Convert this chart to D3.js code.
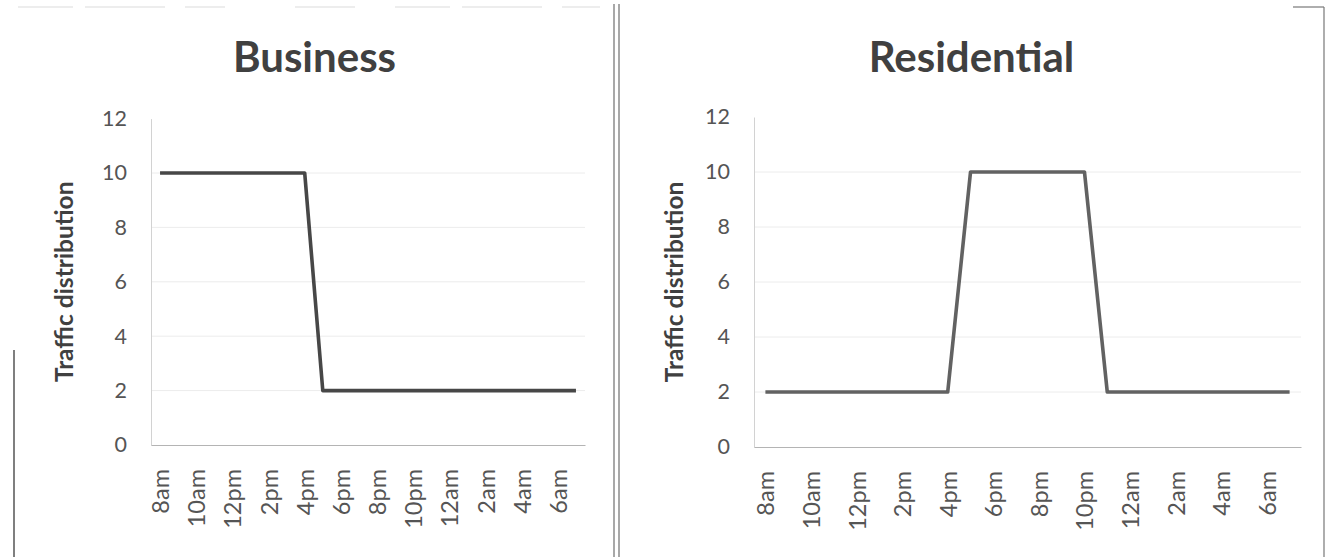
<!DOCTYPE html>
<html>
<head>
<meta charset="utf-8">
<script src="https://cdn.jsdelivr.net/npm/d3@7/dist/d3.min.js"></script>
<style>
  html, body { margin: 0; padding: 0; background: #ffffff; }
  svg { display: block; }
  text { font-family: Lato, "Open Sans", "DejaVu Sans", sans-serif; }
</style>
</head>
<body>
<svg id="chart" width="1327" height="557"></svg>
<script>
// Hourly categories, 8am through 7am the next morning
const hours = ["8am","9am","10am","11am","12pm","1pm","2pm","3pm","4pm","5pm","6pm","7pm",
               "8pm","9pm","10pm","11pm","12am","1am","2am","3am","4am","5am","6am","7am"];
// Labels shown on the category axis (every second hour)
const hourLabels = ["8am","10am","12pm","2pm","4pm","6pm","8pm","10pm","12am","2am","4am","6am"];
// Traffic distribution per hour
const businessValues    = [10,10,10,10,10,10,10,10,10, 2, 2, 2, 2, 2, 2, 2, 2, 2, 2, 2, 2, 2, 2, 2];
const residentialValues = [ 2, 2, 2, 2, 2, 2, 2, 2, 2,10,10,10,10,10,10, 2, 2, 2, 2, 2, 2, 2, 2, 2];
const yTicks = [0, 2, 4, 6, 8, 10, 12];
const panelTitles = ["Business", "Residential"];
const yAxisTitle = "Traffic distribution";

const svg = d3.select("#chart");

// Panel geometry
const panels = [
  { title: panelTitles[0], values: businessValues, lineColor: "#474747",
    chartLeft: 15, chartRight: 614, plotLeft: 151, plotRight: 585, plotTop: 118.6, plotBottom: 445,
    axisTitleX: 64 },
  { title: panelTitles[1], values: residentialValues, lineColor: "#626262",
    chartLeft: 619, chartRight: 1324, plotLeft: 754, plotRight: 1301, plotTop: 117, plotBottom: 447,
    axisTitleX: 674 }
];

// Frame lines around the two charts
const frame = svg.append("g").attr("fill", "none");
frame.append("line").attr("x1", 614).attr("x2", 614).attr("y1", 4).attr("y2", 557)
  .attr("stroke", "#6e6e6e").attr("stroke-width", 1.2);
frame.append("line").attr("x1", 619).attr("x2", 619).attr("y1", 4).attr("y2", 557)
  .attr("stroke", "#6e6e6e").attr("stroke-width", 1.2);
frame.append("line").attr("x1", 14).attr("x2", 14).attr("y1", 350).attr("y2", 557)
  .attr("stroke", "#555").attr("stroke-width", 1.5);
frame.append("line").attr("x1", 18).attr("x2", 600).attr("y1", 7).attr("y2", 7)
  .attr("stroke", "#dcdcdc").attr("stroke-width", 1.2).attr("stroke-dasharray", "55 12 80 20 40 70 60 40");
frame.append("line").attr("x1", 1324).attr("x2", 1324).attr("y1", 7).attr("y2", 557)
  .attr("stroke", "#777").attr("stroke-width", 1.2);
frame.append("line").attr("x1", 1293).attr("x2", 1324).attr("y1", 7).attr("y2", 7)
  .attr("stroke", "#777").attr("stroke-width", 1.2);

panels.forEach(p => {
  const g = svg.append("g");

  const x = d3.scalePoint().domain(hours).range([p.plotLeft, p.plotRight]).padding(0.5);
  const y = d3.scaleLinear().domain([0, 12]).range([p.plotBottom, p.plotTop]);

  // Title
  g.append("text")
    .attr("x", (p.chartLeft + p.chartRight) / 2)
    .attr("y", 72)
    .attr("text-anchor", "middle")
    .attr("font-size", 42)
    .attr("font-weight", 700)
    .attr("fill", "#404040")
    .text(p.title);

  // Horizontal gridlines
  g.append("g").selectAll("line").data(yTicks.filter(v => v > 0 && v < 12)).join("line")
    .attr("x1", p.plotLeft).attr("x2", p.plotRight)
    .attr("y1", d => y(d)).attr("y2", d => y(d))
    .attr("stroke", "#ececec").attr("stroke-width", 1);

  // Value axis
  const yAxis = g.append("g")
    .attr("transform", `translate(${p.plotLeft},0)`)
    .call(d3.axisLeft(y).tickValues(yTicks).tickSize(0).tickPadding(24));
  yAxis.select(".domain").attr("stroke", "#d2d2d2").attr("stroke-width", 1);
  yAxis.selectAll("text")
    .attr("font-size", 21.5)
    .attr("fill", "#555")
    .style("font-family", "Lato, 'Open Sans', sans-serif");

  // Category axis
  const xAxis = g.append("g")
    .attr("transform", `translate(0,${p.plotBottom})`)
    .call(d3.axisBottom(x).tickValues(hourLabels).tickSize(0));
  xAxis.select(".domain").attr("stroke", "#b4b4b4").attr("stroke-width", 1.2);
  xAxis.selectAll("text")
    .attr("font-size", 23.5)
    .attr("fill", "#555")
    .style("font-family", "Lato, 'Open Sans', sans-serif")
    .attr("text-anchor", "end")
    .attr("transform", "rotate(-90)")
    .attr("x", -24)
    .attr("y", 0)
    .attr("dy", "0.36em");

  // Axis title
  g.append("text")
    .attr("transform", `translate(${p.axisTitleX},${(p.plotTop + p.plotBottom) / 2}) rotate(-90)`)
    .attr("text-anchor", "middle")
    .attr("dy", "0.36em")
    .attr("font-size", 24.5)
    .attr("font-weight", 700)
    .attr("fill", "#404040")
    .text(yAxisTitle);

  // Series line
  const line = d3.line().x((d, i) => x(hours[i])).y(d => y(d));
  g.append("path")
    .datum(p.values)
    .attr("d", line)
    .attr("fill", "none")
    .attr("stroke", p.lineColor)
    .attr("stroke-width", 3.6)
    .attr("stroke-linejoin", "round");
});
</script>
</body>
</html>
